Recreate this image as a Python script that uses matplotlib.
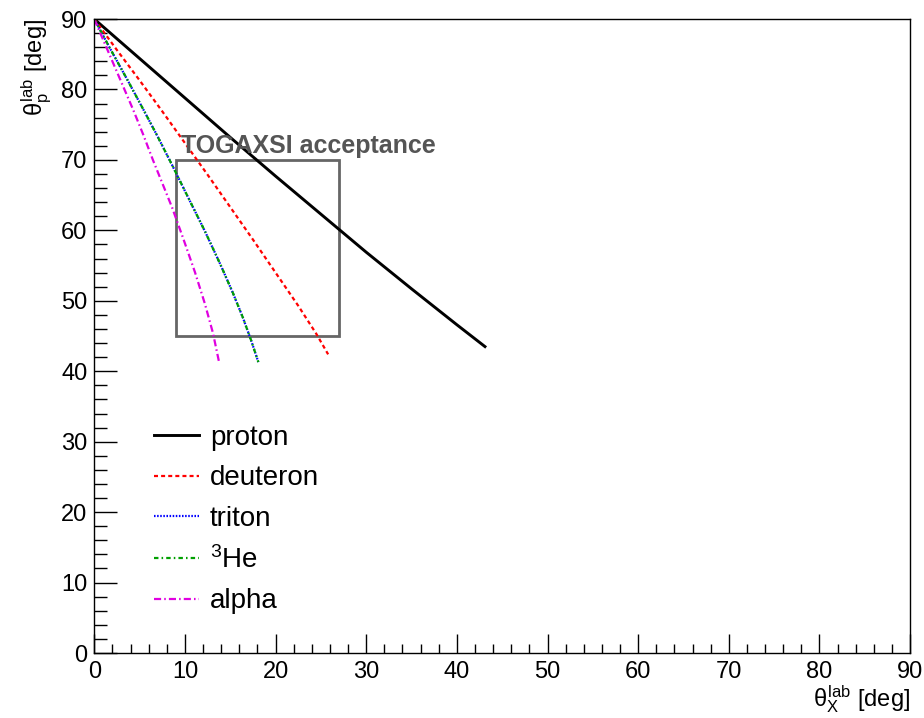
import numpy as np
import matplotlib
matplotlib.use('Agg')
import matplotlib.pyplot as plt
from matplotlib.patches import Rectangle
from matplotlib.ticker import MultipleLocator

plt.rcParams['font.family'] = ['Liberation Sans', 'DejaVu Sans']
plt.rcParams['mathtext.fontset'] = 'custom'
plt.rcParams['mathtext.rm'] = 'Liberation Sans'
plt.rcParams['mathtext.it'] = 'Liberation Sans'
plt.rcParams['mathtext.bf'] = 'Liberation Sans:bold'

# lab angles [deg]
proton_x = [0, 5, 10, 15, 20, 25, 30, 35, 40, 43.1]
proton_y = [90, 84.4, 78.8, 73.2, 67.7, 62.3, 56.9, 51.7, 46.6, 43.5]

deuteron_x = [0, 2.5, 5, 7.5, 10, 12.5, 15, 17.5, 20, 22.5, 24.5, 25.8]
deuteron_y = [90, 85.6, 81.3, 76.9, 72.4, 67.9, 63.3, 58.7, 54.0, 49.3, 45.3, 42.4]

triton_x = [0, 1.75, 3.6, 5.4, 7.0, 8.5, 10.5, 12.2, 13.9, 15.3, 16.4, 17.3, 18.1]
triton_y = [90, 85.8, 81.5, 77.2, 73.3, 69.5, 64.3, 59.9, 55.2, 51.1, 47.6, 44.4, 41.3]

he3_x = [0, 1.75, 3.6, 5.4, 7.0, 8.5, 10.5, 12.2, 13.9, 15.3, 16.4, 17.3, 18.1]
he3_y = [90, 85.8, 81.5, 77.2, 73.3, 69.5, 64.3, 59.9, 55.2, 51.1, 47.6, 44.4, 41.3]

alpha_x = [0, 1.0, 2.1, 3.2, 4.3, 5.4, 6.5, 7.6, 8.6, 9.8, 11.1, 12.2, 13.1, 13.8]
alpha_y = [90, 87.0, 83.7, 80.4, 77.1, 73.6, 69.9, 66.4, 63.2, 58.9, 54.1, 49.6, 45.4, 41.1]

box_x = [9, 27]
box_y = [45, 70]

fig = plt.figure(figsize=(9.24, 7.18), dpi=100)
ax = fig.add_axes([0.102, 0.0905, 0.883, 0.883])

ax.plot(proton_x, proton_y, color='black', lw=2.1, label='proton')
ax.plot(deuteron_x, deuteron_y, color='#ff0000', lw=1.6, dashes=(1.8, 1.4), label='deuteron')
ax.plot(triton_x, triton_y, color='#0000ff', lw=1.6, dashes=(0.7, 0.7), label='triton')
ax.plot(he3_x, he3_y, color='#00a000', lw=1.6, dashes=(2.0, 1.4, 0.7, 1.4), label=r'$^{3}$He')
ax.plot(alpha_x, alpha_y, color='#e000e0', lw=1.6, dashes=(3.2, 1.4, 0.7, 1.4), label='alpha')

ax.add_patch(Rectangle((box_x[0], box_y[0]), box_x[1] - box_x[0], box_y[1] - box_y[0],
                       fill=False, edgecolor='#666666', lw=2.0))
ax.text(9.6, 71.0, 'TOGAXSI acceptance', fontsize=18, fontweight='bold',
        color='#555555', va='baseline', ha='left')

ax.set_xlim(0, 90)
ax.set_ylim(0, 90)
ax.xaxis.set_major_locator(MultipleLocator(10))
ax.xaxis.set_minor_locator(MultipleLocator(2))
ax.yaxis.set_major_locator(MultipleLocator(10))
ax.yaxis.set_minor_locator(MultipleLocator(2))
ax.tick_params(axis='both', which='both', direction='in', top=False, right=False,
               width=1.0, labelsize=17)
ax.tick_params(axis='x', which='major', length=13.5, pad=6)
ax.tick_params(axis='x', which='minor', length=6.5)
ax.tick_params(axis='y', which='major', length=16.5, pad=5)
ax.tick_params(axis='y', which='minor', length=9)
for s in ax.spines.values():
    s.set_linewidth(1.0)

ax.set_xlabel(r'$\theta_{X}^{lab}$ [deg]', fontsize=17, loc='right', labelpad=0)
ax.set_ylabel(r'$\theta_{p}^{lab}$ [deg]', fontsize=17, loc='top', labelpad=5)

ax.legend(loc='upper left', bbox_to_anchor=(0.0735, 0.36), frameon=False,
          fontsize=20, handlelength=1.6, handletextpad=0.4, labelspacing=0.52,
          borderpad=0, borderaxespad=0)

fig.savefig('out.png', dpi=100)
